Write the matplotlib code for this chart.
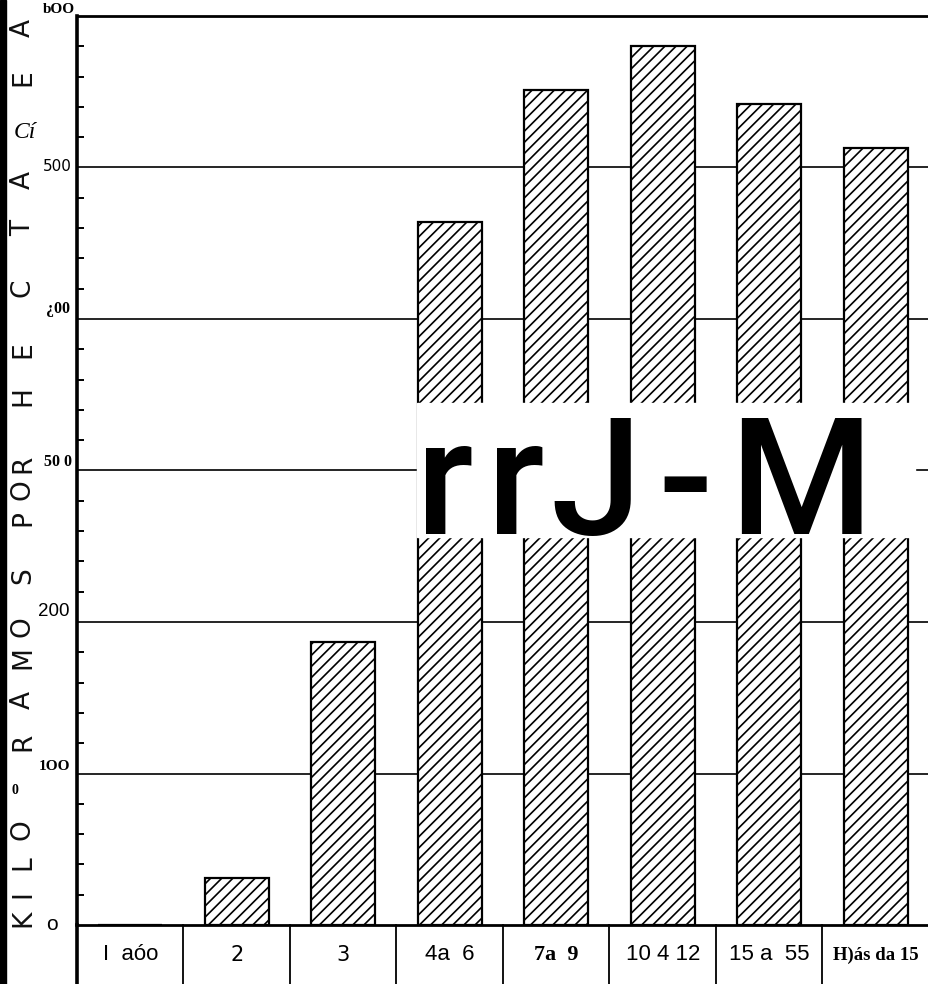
import matplotlib.pyplot as plt
from matplotlib.patches import Rectangle

# edad de la plantación vs rendimiento
categories = ["I  aóo", "2", "3", "4a  6", "7a  9", "10 4 12", "15 a  55", "H)ás da 15"]
kg_per_ha = [0, 31, 187, 464, 551, 580, 542, 513]
y_ticks = [0, 100, 200, 300, 400, 500, 600]
y_labels = ["o", "1OO", "200", "50 0", "¿00", "500", "bOO"]

# vertical axis title, letter by letter (scanned, rotated letters)
title_letters = ["K", "I", "L", "O", "R", "A", "M", "O", "S",
                 "P", "O", "R", "H", "E", "C", "T", "A", "E", "A"]
title_y_px = [918, 894, 863, 830, 742, 700, 658, 627, 576,
              518, 490, 464, 396, 350, 288, 228, 180, 78, 28]

# pasted-over text, glyph by glyph (it is letter-spaced in the scan)
overlay_chars = ["r", "r", "J", "-", "M"]
overlay_x_px = [445, 516, 596, 685, 801]

W, H = 929, 984
plt.rcParams["hatch.linewidth"] = 1.2
fig = plt.figure(figsize=(W / 100, H / 100), dpi=100)
ax = fig.add_axes([77 / W, 59 / H, 852 / W, 909 / H])

x = list(range(len(categories)))
ax.bar(x, kg_per_ha, width=0.6, color="white", edgecolor="black",
       hatch="///", linewidth=1.6, zorder=3)

for v in y_ticks[1:]:
    ax.axhline(v, color="black", lw=2.0 if v == 600 else 1.2, zorder=1, clip_on=False)

ax.set_xlim(-0.5, 7.5)
ax.set_ylim(0, 600)
for s in ["top", "right"]:
    ax.spines[s].set_visible(False)
ax.spines["left"].set_linewidth(2.6)
ax.spines["bottom"].set_linewidth(2.0)

# minor ticks every 20 on the left spine
ax.set_yticks(y_ticks)
ax.set_yticklabels([])
ax.set_yticks(range(0, 601, 20), minor=True)
ax.tick_params(axis="y", which="major", length=0)
ax.tick_params(axis="y", which="minor", direction="in", length=5, width=1.4)

# category row under the axis
ax.set_xticks(x, categories)
ax.tick_params(axis="x", length=0, pad=21.5)
cat_styles = [
    dict(family="Liberation Sans", size=16),
    dict(family="DejaVu Sans", size=15),
    dict(family="DejaVu Sans", size=15),
    dict(family="Liberation Sans", size=16),
    dict(family="Liberation Serif", size=16, weight="bold"),
    dict(family="Liberation Sans", size=16),
    dict(family="Liberation Sans", size=16),
    dict(family="Liberation Serif", size=13.5, weight="bold"),
]
for lbl, st in zip(ax.get_xticklabels(), cat_styles):
    lbl.set_fontfamily(st["family"])
    lbl.set_fontsize(st["size"])
    lbl.set_fontweight(st.get("weight", "normal"))
    lbl.set_verticalalignment("center")

xt = ax.get_xaxis_transform()
ax.plot([-0.5, -0.5], [0, -0.08], color="black", lw=2.6, transform=xt, clip_on=False)
for b in [0.5, 1.5, 2.5, 3.5, 4.5, 5.5, 6.5]:
    ax.plot([b, b], [0, -0.08], color="black", lw=1.3, transform=xt, clip_on=False)

# y tick labels, each in its own (scanned) style
y_styles = [
    dict(family="Liberation Sans", size=15, weight="normal", dx=-19, dy=0, va="center"),
    dict(family="Liberation Serif", size=11, weight="bold", dx=-7, dy=1, va="bottom"),
    dict(family="Liberation Sans", size=13.5, weight="normal", dx=-7, dy=2, va="bottom"),
    dict(family="Liberation Serif", size=11.5, weight="bold", dx=-5, dy=1, va="bottom"),
    dict(family="Liberation Serif", size=11.5, weight="bold", dx=-7, dy=2, va="bottom"),
    dict(family="DejaVu Sans", size=11, weight="normal", dx=-5, dy=1, va="center"),
    dict(family="Liberation Serif", size=11, weight="bold", dx=-2, dy=0, va="bottom"),
]
for v, lab, st in zip(y_ticks, y_labels, y_styles):
    ax.annotate(lab, xy=(0, v), xycoords=("axes fraction", "data"),
                xytext=(st["dx"], st["dy"]), textcoords="offset pixels",
                ha="right", va=st["va"], family=st["family"],
                fontsize=st["size"], fontweight=st["weight"])

# rotated axis title letters
for ch, ypx in zip(title_letters, title_y_px):
    fig.text(23 / W, 1 - ypx / H, ch, rotation=90, ha="center", va="center",
             family="DejaVu Sans", fontsize=19, color="#111111")
fig.text(15 / W, 1 - 790 / H, "0", ha="center", va="center",
         family="Liberation Serif", fontweight="bold", fontsize=10)
fig.text(25 / W, 1 - 133 / H, "Cí", ha="center", va="center",
         family="Liberation Serif", style="italic", fontsize=17)

# dark scan edge on the left
fig.add_artist(Rectangle((0, 0), 6 / W, 1, transform=fig.transFigure,
                         color="black", zorder=5))

# pasted-over text block
fig.add_artist(Rectangle((417 / W, 1 - 537 / H), (915 - 417) / W, (537 - 403) / H,
                         transform=fig.transFigure, color="white", zorder=6))
for ch, xpx in zip(overlay_chars, overlay_x_px):
    fig.text(xpx / W, 1 - 534 / H, ch, ha="center", va="baseline",
             family="Roboto", fontweight="medium", fontsize=118,
             color="black", zorder=7)

fig.savefig("out.png", dpi=100)
